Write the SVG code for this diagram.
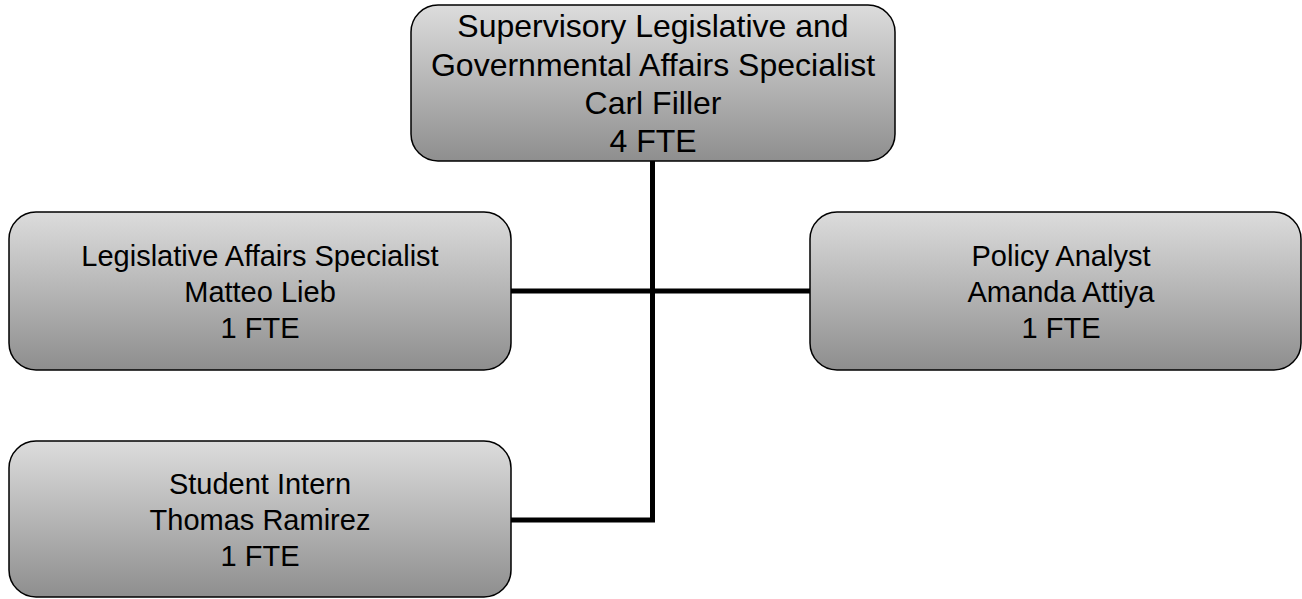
<svg xmlns="http://www.w3.org/2000/svg" width="1302" height="599" viewBox="0 0 1302 599">
  <defs>
    <linearGradient id="boxFill" x1="0" y1="0" x2="0" y2="1">
      <stop offset="0" stop-color="#dcdcdc"/>
      <stop offset="1" stop-color="#8e8e8e"/>
    </linearGradient>
    <style>
      .box { fill: url(#boxFill); stroke: #000; stroke-width: 1.5; }
      .lbl { font-family: "Liberation Sans", Arial, sans-serif; font-size: 29px; fill: #000; text-anchor: middle; }
      .lbl-lg { font-size: 32px; }
      .wire { fill: none; stroke: #000; stroke-width: 5; stroke-linejoin: miter; }
    </style>
  </defs>
  <rect width="1302" height="599" fill="#fff"/>

  <!-- reporting lines -->
  <g id="connectors">
    <polyline class="wire" points="652.5,161 652.5,520 511,520"/>
    <line class="wire" x1="511" y1="291" x2="810" y2="291"/>
  </g>

  <g id="supervisor">
    <rect class="box" x="411" y="5" width="484" height="156" rx="27" ry="27"/>
    <text class="lbl lbl-lg" x="653" y="37">Supervisory Legislative and</text>
    <text class="lbl lbl-lg" x="653" y="76">Governmental Affairs Specialist</text>
    <text class="lbl lbl-lg" x="653" y="114">Carl Filler</text>
    <text class="lbl lbl-lg" x="653" y="152">4 FTE</text>
  </g>

  <g id="legislative-specialist">
    <rect class="box" x="9" y="212" width="502" height="158" rx="27" ry="27"/>
    <text class="lbl" x="260" y="266">Legislative Affairs Specialist</text>
    <text class="lbl" x="260" y="302">Matteo Lieb</text>
    <text class="lbl" x="260" y="338">1 FTE</text>
  </g>

  <g id="policy-analyst">
    <rect class="box" x="810" y="212" width="491" height="158" rx="27" ry="27"/>
    <text class="lbl" x="1061" y="266">Policy Analyst</text>
    <text class="lbl" x="1061" y="302">Amanda Attiya</text>
    <text class="lbl" x="1061" y="338">1 FTE</text>
  </g>

  <g id="student-intern">
    <rect class="box" x="9" y="441" width="502" height="156" rx="27" ry="27"/>
    <text class="lbl" x="260" y="494">Student Intern</text>
    <text class="lbl" x="260" y="530">Thomas Ramirez</text>
    <text class="lbl" x="260" y="566">1 FTE</text>
  </g>
</svg>
